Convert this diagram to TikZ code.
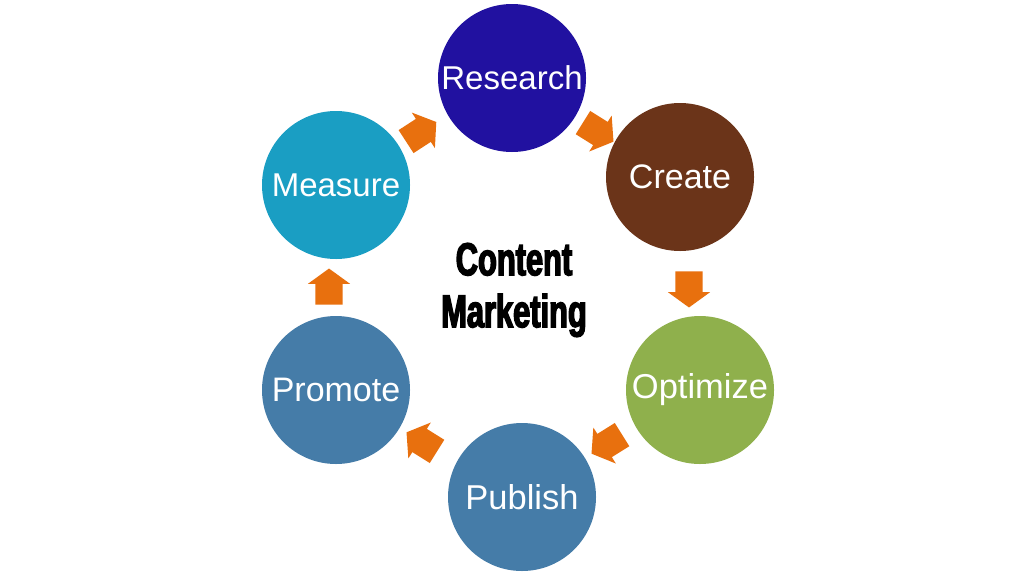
\documentclass[tikz,border=0pt]{standalone}
\usepackage{fontspec}
\setmainfont{Liberation Sans}
\newfontfamily\titlefont[FakeStretch=0.67,FakeBold=3]{Liberation Sans Bold}
\usetikzlibrary{shapes.arrows,calc}
\definecolor{cResearch}{RGB}{33,17,160}
\definecolor{cCreate}{RGB}{107,52,25}
\definecolor{cOptimize}{RGB}{143,176,76}
\definecolor{cPublish}{RGB}{69,124,168}
\definecolor{cMeasure}{RGB}{26,158,195}
\definecolor{cArrow}{RGB}{232,112,14}
\tikzset{
  stage/.style={circle, minimum size=148pt, inner sep=0pt, text=white, font=\fontsize{34}{38}\selectfont},
  flow/.style={single arrow, fill=cArrow, draw=none, minimum height=36pt, inner xsep=0pt, inner ysep=13.5pt, single arrow head extend=7.5pt, single arrow head indent=0pt, single arrow tip angle=108},
}
\begin{document}
\begin{tikzpicture}[x=1pt,y=-1pt]
\useasboundingbox[fill=white] (0,0) rectangle (1024,576);
\node[stage, fill=cResearch, font=\fontsize{33}{38}\selectfont] (research) at (512,78) {Research};
\node[stage, fill=cCreate] (create) at (680,177) {Create};
\node[stage, fill=cOptimize, font=\fontsize{34.5}{38}\selectfont] (optimize) at (700,390) {Optimize};
\node[stage, fill=cPublish, font=\fontsize{34.5}{38}\selectfont] (publish) at (522,497) {Publish};
\node[stage, fill=cPublish] (promote) at (336,390) {Promote};
\node[stage, fill=cMeasure, font=\fontsize{33}{38}\selectfont] (measure) at (336,185) {Measure};
\node[align=center, font=\titlefont\fontsize{46}{52}\selectfont] (title) at (514,290) {Content\\Marketing};
\node[flow, rotate=33] (a1) at ($(measure)!0.5!(research)+(-7,3)$) {};
\node[flow, rotate=-32] (a2) at ($(research)!0.5!(create)+(-2,2)$) {};
\node[flow, rotate=-90] (a3) at ($(create)!0.5!(optimize)+(-1,1)$) {};
\node[flow, rotate=212] (a4) at ($(optimize)!0.5!(publish)+(0,-2)$) {};
\node[flow, rotate=148] (a5) at ($(publish)!0.5!(promote)+(-3,1)$) {};
\node[flow, rotate=90] (a6) at ($(promote)!0.5!(measure)+(-7,4)$) {};
\end{tikzpicture}
\end{document}
